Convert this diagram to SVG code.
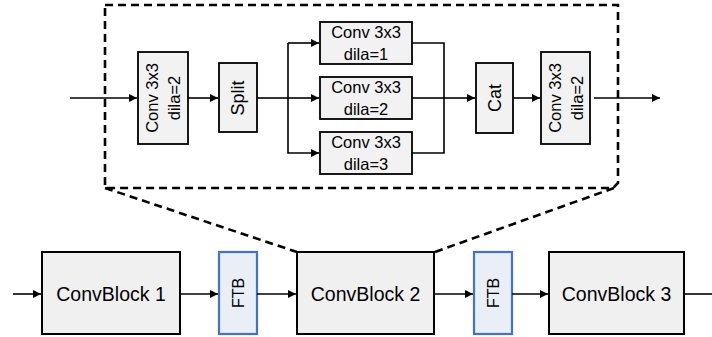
<svg xmlns="http://www.w3.org/2000/svg" width="712" height="337" viewBox="0 0 712 337">
  <defs>
    <marker id="arr" viewBox="0 0 10 10" refX="10" refY="5" markerWidth="9" markerHeight="8" markerUnits="userSpaceOnUse" orient="auto">
      <path d="M0,0 L10,5 L0,10 Z" fill="#000"/>
    </marker>
    <style>
      text { font-family: "Liberation Sans", Arial, sans-serif; fill: #000; }
      .box { fill: #F0F0F0; stroke: #000; stroke-width: 2; }
      .inner { fill: #F2F2F2; stroke: #000; stroke-width: 1.8; }
      .ftb { fill: #E9EEF7; stroke: #4472C4; stroke-width: 2.2; }
      .dash { fill: none; stroke: #000; stroke-width: 2.6; stroke-dasharray: 8 5; }
      .line { fill: none; stroke: #000; stroke-width: 1.6; }
      .arrow { fill: none; stroke: #000; stroke-width: 1.6; marker-end: url(#arr); }
      .big { font-size: 19.5px; }
      .mid { font-size: 18px; }
      .ftbt { font-size: 16px; }
      .sm { font-size: 16.5px; }
    </style>
  </defs>

  <!-- expanded view of ConvBlock 2 -->
  <g id="detail-frame">
    <path d="M105,5 H618 V183 L613,188 H105 Z" fill="#F2F2F2" class="dash"/>
    <path class="dash" d="M105,188 L297,252"/>
    <path class="dash" d="M614,188 L435,252"/>
  </g>

  <g id="conv-in">
    <rect class="inner" x="138" y="52" width="50" height="92"/>
    <text class="sm" transform="rotate(-90 163 98)" x="163" y="98" text-anchor="middle"><tspan x="163" dy="-5">Conv 3x3</tspan><tspan x="163" dy="22">dila=2</tspan></text>
  </g>
  <g id="split">
    <rect class="inner" x="219" y="63" width="38" height="69"/>
    <text class="mid" transform="rotate(-90 238 98)" x="238" y="98" text-anchor="middle" dominant-baseline="central">Split</text>
  </g>
  <g id="branch-1">
    <rect class="inner" x="320" y="22" width="92" height="42"/>
    <text class="sm" x="366" y="38" text-anchor="middle">Conv 3x3</text>
    <text class="sm" x="366" y="60" text-anchor="middle">dila=1</text>
  </g>
  <g id="branch-2">
    <rect class="inner" x="320" y="77" width="92" height="42"/>
    <text class="sm" x="366" y="93" text-anchor="middle">Conv 3x3</text>
    <text class="sm" x="366" y="115" text-anchor="middle">dila=2</text>
  </g>
  <g id="branch-3">
    <rect class="inner" x="320" y="132" width="92" height="42"/>
    <text class="sm" x="366" y="148" text-anchor="middle">Conv 3x3</text>
    <text class="sm" x="366" y="170" text-anchor="middle">dila=3</text>
  </g>
  <g id="cat">
    <rect class="inner" x="476" y="63" width="37" height="70"/>
    <text class="mid" transform="rotate(-90 494.5 98)" x="494.5" y="98" text-anchor="middle" dominant-baseline="central">Cat</text>
  </g>
  <g id="conv-out">
    <rect class="inner" x="541" y="52" width="49" height="92"/>
    <text class="sm" transform="rotate(-90 565.5 98)" x="565.5" y="98" text-anchor="middle"><tspan x="565.5" dy="-5">Conv 3x3</tspan><tspan x="565.5" dy="22">dila=2</tspan></text>
  </g>

  <!-- main pipeline -->
  <g id="convblock-1">
    <rect class="box" x="42" y="252" width="138" height="82"/>
    <text class="big" x="111" y="301" text-anchor="middle">ConvBlock 1</text>
  </g>
  <g id="ftb-1">
    <rect class="ftb" x="219" y="252" width="38" height="82"/>
    <text class="ftbt" transform="rotate(-90 238 293)" x="238" y="293" text-anchor="middle" dominant-baseline="central">FTB</text>
  </g>
  <g id="convblock-2">
    <rect class="box" x="297" y="252" width="137" height="82"/>
    <text class="big" x="365.5" y="301" text-anchor="middle">ConvBlock 2</text>
  </g>
  <g id="ftb-2">
    <rect class="ftb" x="474" y="252" width="38" height="82"/>
    <text class="ftbt" transform="rotate(-90 493 293)" x="493" y="293" text-anchor="middle" dominant-baseline="central">FTB</text>
  </g>
  <g id="convblock-3">
    <rect class="box" x="549" y="252" width="135" height="82"/>
    <text class="big" x="616.5" y="301" text-anchor="middle">ConvBlock 3</text>
  </g>

  <g id="connectors">
    <!-- detail flow -->
    <path class="arrow" d="M70,98 H137"/>
    <path class="arrow" d="M188,98 H218"/>
    <path class="line" d="M257,98 H288"/>
    <path class="arrow" d="M288,43 V153 H319"/>
    <path class="arrow" d="M288,43 H319"/>
    <path class="arrow" d="M288,98 H319"/>
    <path class="line" d="M412,43 H444 V153 H412"/>
    <path class="line" d="M412,98 H444"/>
    <path class="arrow" d="M444,98 H475"/>
    <path class="arrow" d="M513,98 H540"/>
    <path class="arrow" d="M594,98 H660"/>
    <!-- pipeline flow -->
    <path class="arrow" d="M13,294 H41"/>
    <path class="arrow" d="M180,294 H218"/>
    <path class="arrow" d="M257,294 H296"/>
    <path class="arrow" d="M434,294 H473"/>
    <path class="arrow" d="M512,294 H548"/>
    <path class="line" d="M684,294 H712"/>
  </g>
</svg>
